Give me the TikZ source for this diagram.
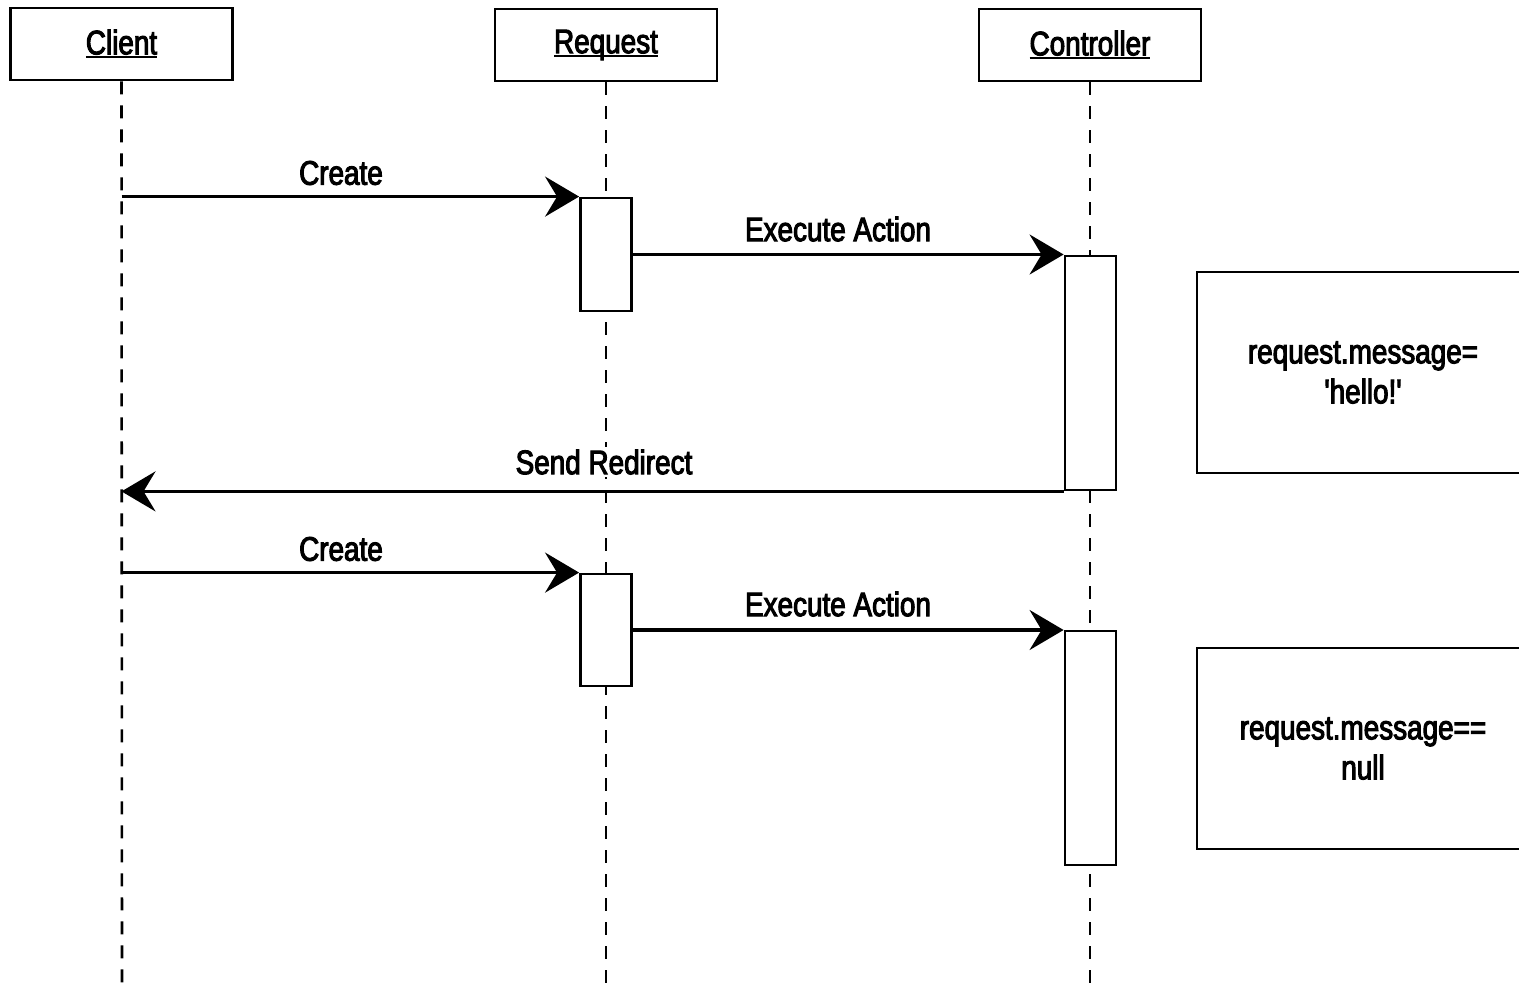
\documentclass[tikz,border=0pt]{standalone}
\usepackage{fontspec}
\newfontfamily\diagfont[FakeStretch=0.82,FakeBold=3]{Liberation Sans}
\usetikzlibrary{arrows.meta}
% underline drawn just under the baseline, independent of descenders
\newcommand\hdrline[1]{\setbox0\hbox{#1}\rlap{\rule[-4pt]{\wd0}{2.4pt}}\box0}
\begin{document}
\begin{tikzpicture}[x=1pt,y=-1pt,
  txt/.style={font=\diagfont\fontsize{34}{40}\selectfont},
  obj/.style={draw,line width=2.8pt,minimum width=222pt,minimum height=72pt,inner sep=0pt,txt},
  act/.style={draw,line width=2.8pt,fill=white,minimum width=51pt,inner sep=0pt},
  life/.style={line width=2.6pt,dash pattern=on 13pt off 11pt},
  msg/.style={line width=3.2pt,-{Stealth[length=34pt,width=40pt,inset=12pt]}},
  lbl/.style={inner sep=3pt,fill=white,txt},
  note/.style={draw,line width=2.8pt,minimum width=332pt,minimum height=201pt,align=center,inner sep=0pt,txt}]
\path[use as bounding box,clip] (0,0) rectangle (1519,985);

% participants
\node[obj] (client) at (121.5,44) {\hdrline{Client}};
\node[obj] (request) at (606,45) {\hdrline{Request}};
\node[obj] (controller) at (1090,45) {\hdrline{Controller}};

% lifelines
\coordinate (clEnd) at (122,992);
\coordinate (rqEnd) at (606,992);
\coordinate (ctEnd) at (1090,992);
\draw[life] (client.south) -- (clEnd);
\draw[life] (request.south) -- (rqEnd);
\draw[life] (controller.south) -- (ctEnd);

% activations
\node[act,minimum height=113pt] (r1) at (606,254.5) {};
\node[act,minimum height=234pt] (c1) at (1090.5,373) {};
\node[act,minimum height=112pt] (r2) at (606,630) {};
\node[act,minimum height=234pt] (c2) at (1090.5,748) {};

% messages
\draw[msg] (client.south |- r1.north west) -- (r1.north west);
\draw[msg] (r1.east) -- (r1.east -| c1.west);
\draw[msg] (c1.south west) -- (c1.south west -| client.south);
\draw[msg] (client.south |- r2.north west) -- (r2.north west);
\draw[msg] (r2.east) -- (r2.east -| c2.west);

% message labels
\node[lbl] (l1) at (341,173) {Create};
\node[lbl] (l2) at (838,229) {Execute Action};
\node[lbl] (l3) at (604,462) {Send Redirect};
\node[lbl] (l4) at (341,549) {Create};
\node[lbl] (l5) at (838,604) {Execute Action};

% notes
\node[note] (n1) at (1363,372.5) {request.message=\\'hello!'};
\node[note] (n2) at (1363,748.5) {request.message==\\null};
\end{tikzpicture}
\end{document}
